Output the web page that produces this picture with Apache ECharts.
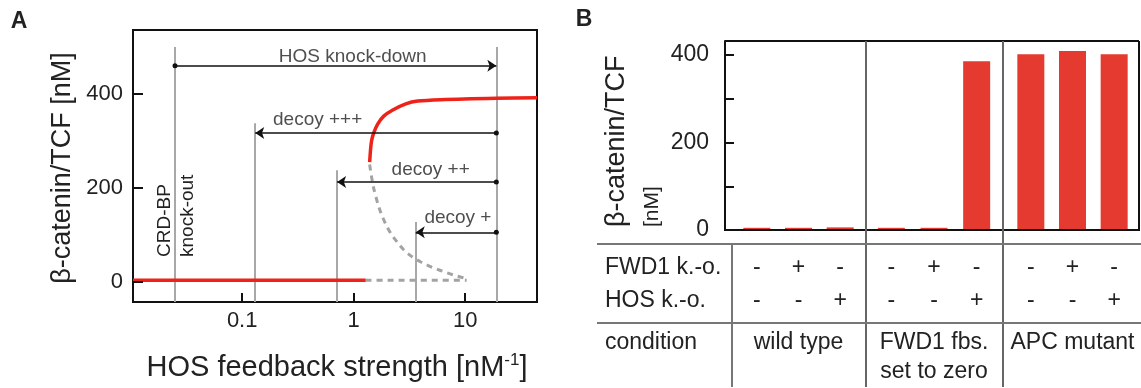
<!DOCTYPE html>
<html><head><meta charset="utf-8">
<script src="https://cdn.jsdelivr.net/npm/echarts@6/dist/echarts.min.js"></script>
<style>html,body{margin:0;padding:0;background:#fff}#c{width:1141px;height:388px}</style>
</head><body><div id="c"></div>
<script>
// ---------- Panel A data ----------
const vlineX = [0.025, 0.131, 0.71, 3.6, 19];
const vlineTop = [500, 338, 238, 128, 500];
const arrowFromX = [0.025, 19, 19, 19];
const arrowToX = [19, 0.131, 0.71, 3.6];
const arrowY = [460, 317, 213, 106];
const annotText = ['HOS knock-down', 'decoy +++', 'decoy ++', 'decoy +'];
const annotX = [0.98, 0.475, 4.9, 8.6];
const annotY = [479, 345, 240, 136];
const lowerStable = [[0.0105, 4], [1.28, 4]];
const lowerUnstable = [[1.28, 4], [10.3, 4]];
const upperStable = [[1.39, 255], [1.42, 285], [1.45, 302], [1.51, 317], [1.64, 336], [1.86, 353], [2.24, 366], [2.93, 379], [3.75, 385], [6.0, 388], [19, 391], [44, 392]];
const middleUnstable = [[1.39, 250], [1.45, 222], [1.51, 200], [1.64, 168], [1.75, 148], [1.94, 123], [2.15, 104], [2.48, 84], [2.81, 69], [3.3, 55], [4.0, 43], [5.0, 32], [6.0, 25], [7.7, 16], [9.7, 9], [10.3, 6]];
const yTicksA = [0, 200, 400];
const xTicksA = [0.1, 1, 10];

// ---------- Panel B data ----------
const groups = ['wild type', 'FWD1 fbs.\nset to zero', 'APC mutant'];
const fwd1KO = [['-', '+', '-'], ['-', '+', '-'], ['-', '+', '-']];
const hosKO = [['-', '-', '+'], ['-', '-', '+'], ['-', '-', '+']];
const betaCatenin = [[5, 5, 6], [5, 5, 386], [402, 409, 402]];
const yTicksB = [0, 100, 200, 300, 400];
const yLabelsB = [0, 200, 400];
const rowHeaders = ['FWD1 k.-o.', 'HOS k.-o.', 'condition'];

const FONT = "'Liberation Sans', Arial, sans-serif";
const TXT = '#222';
const RED = '#ef2219';
const BAR = '#e53a2f';
const GRAYDASH = '#a3a3a3';

// panel A axis extents and tick lengths (in axis units)
const A_XMIN = 0.0105, A_XMAX = 44, A_YMIN = -42, A_YMAX = 536;
const X_TICK_LEN = 19;        // value units (~9 px)
const Y_TICK_FACTOR = 1.23;   // log-axis factor (~10 px)

const chart = echarts.init(document.getElementById('c'), null, {renderer: 'canvas'});

const gridsB = [
  {left: 736, top: 41, width: 125, height: 189},
  {left: 870, top: 41, width: 128, height: 189},
  {left: 1010, top: 41, width: 125, height: 189}
];

const grid = [{left: 133, top: 30, width: 404, height: 272, show: true, borderColor: '#111', borderWidth: 2, backgroundColor: 'transparent'}].concat(gridsB);

const xAxis = [{
  type: 'log', logBase: 10, gridIndex: 0, min: A_XMIN, max: A_XMAX,
  axisLine: {show: true, onZero: false, lineStyle: {color: '#111', width: 2}},
  axisTick: {show: false},
  axisLabel: {show: true, fontSize: 22, fontFamily: FONT, color: TXT, margin: 8,
    formatter: v => (v < 0.05 || v > 40) ? '' : String(+v.toPrecision(3))},
  splitLine: {show: false}
}];
const yAxis = [{
  type: 'value', gridIndex: 0, min: A_YMIN, max: A_YMAX,
  axisLine: {show: true, onZero: false, lineStyle: {color: '#111', width: 2}},
  axisTick: {show: false, customValues: yTicksA},
  axisLabel: {show: true, fontSize: 22, fontFamily: FONT, color: TXT, margin: 10, customValues: yTicksA},
  splitLine: {show: false}
}];

groups.forEach((g, gi) => {
  xAxis.push({
    type: 'category', gridIndex: gi + 1, data: [0, 1, 2].map(i => g + ' ' + i),
    axisLine: {show: false, onZero: false}, axisTick: {show: false}, splitLine: {show: false},
    axisLabel: {show: true, interval: 0, fontSize: 23, fontFamily: FONT, color: TXT, lineHeight: 33, margin: 21,
      formatter: (v, i) => fwd1KO[gi][i] + '\n' + hosKO[gi][i]},
    name: g, nameLocation: 'middle', nameGap: 98,
    nameTextStyle: {fontSize: 23, fontFamily: FONT, color: TXT, lineHeight: 29, verticalAlign: 'top'}
  });
  yAxis.push({
    type: 'value', gridIndex: gi + 1, min: 0, max: 432, show: gi === 0, offset: gi === 0 ? 11 : 0,
    axisLine: {show: true, onZero: false, lineStyle: {color: '#111', width: 2}},
    axisTick: {show: true, inside: true, length: 9, lineStyle: {color: '#111', width: 2}, customValues: yTicksB},
    axisLabel: {show: true, fontSize: 23, fontFamily: FONT, color: TXT, margin: 16, customValues: yLabelsB},
    splitLine: {show: false}
  });
});

const series = [];
// vertical gray lines
series.push({
  type: 'lines', coordinateSystem: 'cartesian2d', xAxisIndex: 0, yAxisIndex: 0, silent: true, z: 1,
  symbol: 'none',
  lineStyle: {color: '#a8a8a8', width: 2, opacity: 1},
  data: vlineX.map((x, i) => ({coords: [[x, A_YMIN], [x, vlineTop[i]]]}))
});
// panel A inner tick marks (placed at the tick values through the axes)
series.push({
  type: 'lines', coordinateSystem: 'cartesian2d', xAxisIndex: 0, yAxisIndex: 0, silent: true, z: 6,
  symbol: 'none',
  lineStyle: {color: '#111', width: 2, opacity: 1},
  data: xTicksA.map(v => ({coords: [[v, A_YMIN], [v, A_YMIN + X_TICK_LEN]]}))
    .concat(yTicksA.map(v => ({coords: [[A_XMIN, v], [A_XMIN * Y_TICK_FACTOR, v]]})))
});
// dashed unstable branches
[lowerUnstable, middleUnstable].forEach(d => series.push({
  type: 'line', xAxisIndex: 0, yAxisIndex: 0, data: d, showSymbol: false, symbol: 'none', smooth: 0.3, z: 2,
  lineStyle: {color: GRAYDASH, width: 3, type: [6, 5]}, silent: true
}));
// stable red branches
[lowerStable, upperStable].forEach(d => series.push({
  type: 'line', xAxisIndex: 0, yAxisIndex: 0, data: d, showSymbol: false, symbol: 'none', smooth: 0.3, z: 3,
  lineStyle: {color: RED, width: 3.5}, silent: true
}));
// arrows
series.push({
  type: 'lines', coordinateSystem: 'cartesian2d', xAxisIndex: 0, yAxisIndex: 0, silent: true, z: 4,
  symbol: ['circle', 'arrow'], symbolSize: [5, 9],
  lineStyle: {color: '#111', width: 1.5, opacity: 1},
  data: arrowY.map((y, i) => ({coords: [[arrowFromX[i], y], [arrowToX[i], y]]}))
});
// annotation labels
series.push({
  type: 'scatter', xAxisIndex: 0, yAxisIndex: 0, symbolSize: 0, silent: true, z: 5,
  label: {show: true, position: 'inside', fontSize: 19, fontFamily: FONT, color: TXT, formatter: p => p.name},
  data: annotText.map((t, i) => ({name: t, value: [annotX[i], annotY[i]]}))
});
// bars
groups.forEach((g, gi) => series.push({
  type: 'bar', xAxisIndex: gi + 1, yAxisIndex: gi + 1, barWidth: 27,
  itemStyle: {color: BAR}, data: betaCatenin[gi], silent: true
}));

const line = (x1, y1, x2, y2, color, w) => ({type: 'line', shape: {x1, y1, x2, y2}, style: {stroke: color, lineWidth: w}, z: 10, silent: true});
const txt = (x, y, text, size, opts = {}) => ({
  type: 'text', x, y, rotation: opts.rot || 0, z: 10, silent: true,
  style: Object.assign({text, fontSize: size, fontFamily: FONT, fill: TXT, align: opts.align || 'left', verticalAlign: 'middle',
    textAlign: opts.align || 'left', textVerticalAlign: 'middle', fontWeight: opts.bold ? 'bold' : 'normal'}, opts.style || {})
});

const graphic = [
  txt(19, 22, 'A', 23, {bold: true, align: 'center'}),
  txt(584, 20, 'B', 23, {bold: true, align: 'center'}),
  txt(63, 168, 'β-catenin/TCF [nM]', 27, {rot: Math.PI / 2, align: 'center'}),
  {
    type: 'text', x: 337, y: 368, z: 10, silent: true,
    style: {text: '{t|HOS feedback strength [nM}{s|-1}{t|]}', align: 'center', verticalAlign: 'middle', textAlign: 'center', textVerticalAlign: 'middle',
      fill: TXT, fontFamily: FONT,
      rich: {t: {fontSize: 29, fontFamily: FONT, fill: TXT, color: TXT, lineHeight: 32},
             s: {fontSize: 17, fontFamily: FONT, fill: TXT, color: TXT, verticalAlign: 'top', lineHeight: 20}}}
  },
  txt(165, 257, 'CRD-BP', 19, {rot: Math.PI / 2}),
  txt(188, 257, 'knock-out', 19, {rot: Math.PI / 2}),
  txt(617, 227, 'β-catenin/TCF', 27, {rot: Math.PI / 2}),
  txt(652, 227, '[nM]', 21, {rot: Math.PI / 2}),
  // panel B frame
  line(725, 41, 1139, 41, '#111', 2),
  line(1139, 41, 1139, 231, '#111', 2),
  line(724, 230, 1139, 230, '#111', 2),
  // group separators and table
  line(866, 41, 866, 387, '#666', 2),
  line(1003, 41, 1003, 387, '#666', 2),
  line(597, 244, 1141, 244, '#777', 2),
  line(597, 323, 1141, 323, '#777', 2),
  line(732, 244, 732, 387, '#777', 2),
  txt(605, 268, rowHeaders[0], 23),
  txt(605, 301, rowHeaders[1], 23),
  txt(605, 343, rowHeaders[2], 23)
];

chart.setOption({animation: false, backgroundColor: '#fff', grid, xAxis, yAxis, series, graphic});
</script></body></html>
